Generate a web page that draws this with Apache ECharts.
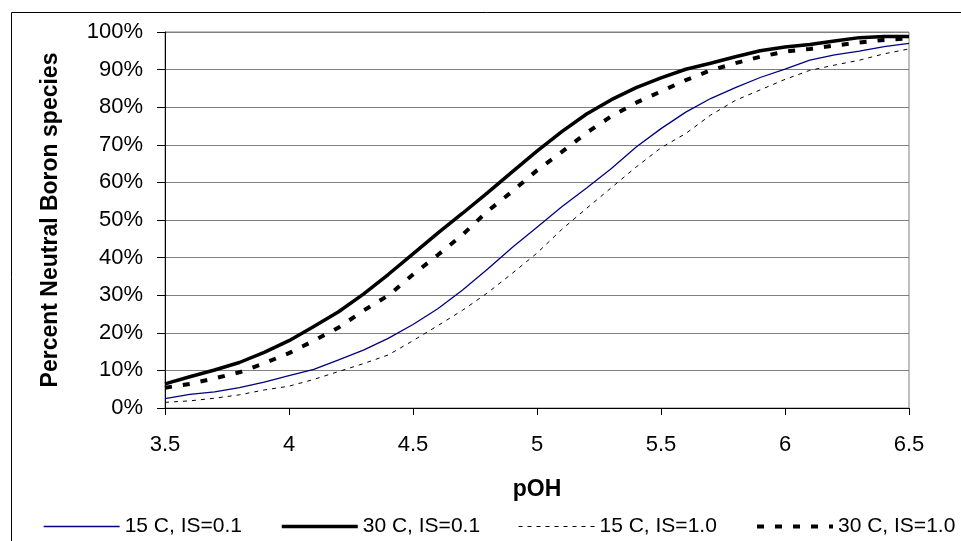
<!DOCTYPE html>
<html>
<head>
<meta charset="utf-8">
<title>Percent Neutral Boron species vs pOH</title>
<script src="https://cdn.jsdelivr.net/npm/echarts@6/dist/echarts.min.js"></script>
<style>
  html, body { margin: 0; padding: 0; background: #fff; }
  #chart { width: 961px; height: 541px; }
</style>
</head>
<body>
<div id="chart"></div>
<script>
// pOH values (x)
var pOH = [3.5, 3.6, 3.7, 3.8, 3.9, 4.0, 4.1, 4.2, 4.3, 4.4, 4.5, 4.6, 4.7, 4.8, 4.9, 5.0,
  5.1, 5.2, 5.3, 5.4, 5.5, 5.6, 5.7, 5.8, 5.9, 6.0, 6.1, 6.2, 6.3, 6.4, 6.5];

// percent neutral boron
var t15is01 = [2.5, 3.6, 4.3, 5.4, 6.9, 8.6, 10.3, 12.8, 15.4, 18.5, 22.2, 26.4, 31.4, 36.9, 42.7, 48.1,
  53.5, 58.5, 63.7, 69.4, 74.3, 78.7, 82.3, 85.2, 87.9, 90.1, 92.5, 93.9, 94.9, 96.1, 97.0];
var t30is01 = [6.4, 8.3, 10.1, 12.1, 14.8, 17.9, 21.7, 25.6, 30.3, 35.5, 41.0, 46.5, 51.8, 57.2, 62.8, 68.3,
  73.5, 78.2, 82.0, 85.2, 87.8, 90.1, 91.7, 93.4, 95.0, 96.0, 96.7, 97.6, 98.5, 98.8, 98.8];
var t15is10 = [1.5, 1.9, 2.6, 3.5, 4.8, 5.8, 7.6, 9.7, 11.8, 14.1, 17.9, 21.9, 26.0, 30.6, 35.8, 41.2,
  47.5, 53.1, 58.6, 64.1, 69.2, 73.0, 77.9, 81.8, 84.6, 87.4, 89.8, 91.2, 92.5, 94.2, 95.5];
var t30is10 = [5.4, 6.4, 7.9, 9.5, 11.9, 14.6, 17.9, 21.4, 25.9, 29.9, 35.5, 40.7, 46.1, 52.3, 57.6, 63.2,
  68.1, 73.2, 77.6, 81.2, 84.2, 87.2, 89.8, 91.7, 93.4, 94.8, 95.5, 96.4, 97.2, 97.9, 98.3];

var names = ['15 C, IS=0.1', '30 C, IS=0.1', '15 C, IS=1.0', '30 C, IS=1.0'];

var FONT = 'Liberation Sans, Arial, sans-serif';

function pairs(ys) {
  var out = [];
  for (var i = 0; i < pOH.length; i++) {
    out.push([pOH[i], ys[i]]);
  }
  return out;
}

// one legend per item so each sits where the original puts it
function legendAt(left, name) {
  return {
    left: left,
    top: 516,
    padding: 0,
    itemWidth: 76,
    itemHeight: 14,
    data: [name],
    selectedMode: false,
    itemStyle: { opacity: 0 },
    lineStyle: { width: 'inherit' },
    textStyle: { fontFamily: FONT, fontSize: 21, color: '#000' }
  };
}

var chart = echarts.init(document.getElementById('chart'), null, { renderer: 'canvas' });

var option = {
  backgroundColor: '#fff',
  animation: false,
  graphic: [{
    type: 'rect',
    left: 9, top: 10,
    shape: { width: 960, height: 540 },
    style: { fill: 'none', stroke: '#000', lineWidth: 1 },
    silent: true
  }],
  grid: {
    left: 165, right: 52, top: 32, bottom: 133,
    show: true,
    borderColor: '#808080',
    borderWidth: 1
  },
  legend: [
    legendAt(43, names[0]),
    legendAt(280, names[1]),
    legendAt(518, names[2]),
    legendAt(755, names[3])
  ],
  xAxis: {
    type: 'value',
    min: 3.5, max: 6.5, interval: 0.5,
    name: 'pOH',
    nameLocation: 'middle',
    nameGap: 70,
    nameTextStyle: { fontFamily: FONT, fontSize: 23, fontWeight: 'bold', color: '#000' },
    axisLine: { lineStyle: { color: '#000', width: 1 } },
    axisTick: { show: true, length: 7, lineStyle: { color: '#000' } },
    axisLabel: { fontFamily: FONT, fontSize: 22, color: '#000', margin: 26 },
    splitLine: { show: false }
  },
  yAxis: {
    type: 'value',
    min: 0, max: 100, interval: 10,
    name: 'Percent Neutral Boron species',
    nameLocation: 'middle',
    nameGap: 103,
    nameTextStyle: { fontFamily: FONT, fontSize: 23, fontWeight: 'bold', color: '#000' },
    axisLine: { show: true, lineStyle: { color: '#000', width: 1 } },
    axisTick: { show: true, length: 8, lineStyle: { color: '#000' } },
    axisLabel: { fontFamily: FONT, fontSize: 22, color: '#000', margin: 22, formatter: '{value}%' },
    splitLine: { show: true, lineStyle: { color: '#808080', width: 1 } }
  },
  series: [
    {
      name: names[0], type: 'line', data: pairs(t15is01),
      symbol: 'none', color: '#000080',
      lineStyle: { color: '#000080', width: 1.3 }
    },
    {
      name: names[1], type: 'line', data: pairs(t30is01),
      symbol: 'none', color: '#000',
      lineStyle: { color: '#000', width: 3.5 }
    },
    {
      name: names[2], type: 'line', data: pairs(t15is10),
      symbol: 'none', color: '#000',
      lineStyle: { color: '#000', width: 1, type: [4, 5] }
    },
    {
      name: names[3], type: 'line', data: pairs(t30is10),
      symbol: 'none', color: '#000',
      lineStyle: { color: '#000', width: 4, type: [7, 11] }
    }
  ]
};

chart.setOption(option);
</script>
</body>
</html>
